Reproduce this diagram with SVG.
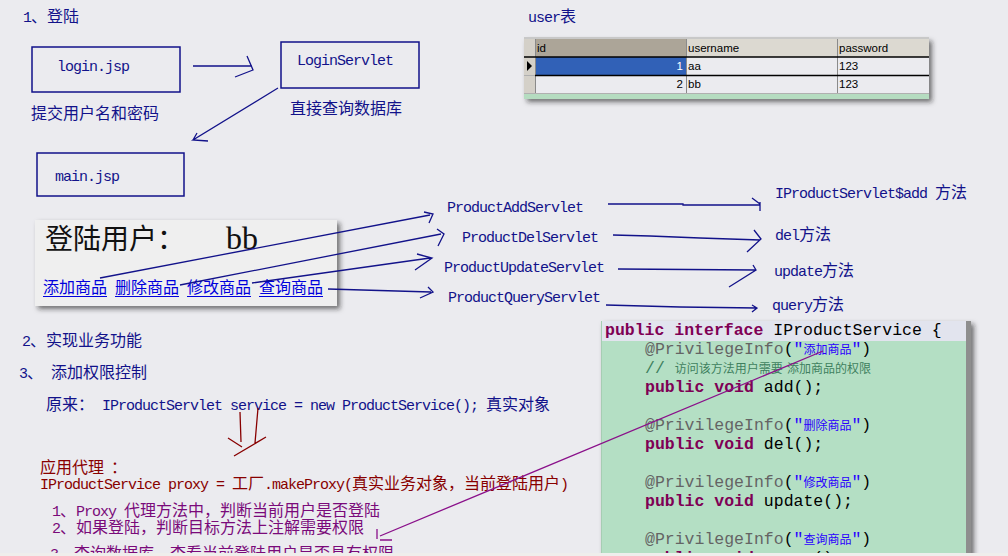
<svg xmlns="http://www.w3.org/2000/svg" width="1008" height="556" viewBox="0 0 1008 556">
<style>
.m{font-family:"Liberation Mono",monospace;font-size:15px;letter-spacing:-1px}
.k{font-family:"Noto Sans CJK SC","Noto Sans CJK JP",sans-serif;font-size:16px;letter-spacing:0}
.nv{fill:#12128a}
.dr{fill:#880000}
.pu{fill:#7a0a7a}
.box{fill:none;stroke:#12128a;stroke-width:1.5}
.ln{fill:none;stroke:#12128a;stroke-width:1.3}
.rd{fill:none;stroke:#880000;stroke-width:1.3}
.pl{fill:none;stroke:#8a108a;stroke-width:1.3}
.t{font-family:"Liberation Sans",Arial,sans-serif;font-size:11.5px;fill:#000}
.c{font-family:"Liberation Mono",monospace;font-size:16.5px}
.ck{font-family:"Noto Sans CJK SC",sans-serif;font-size:12px}
.kw{font-weight:bold;fill:#7f0055}
.an{fill:#646464}
.st{fill:#2a00ff}
.cm{fill:#3f7f5f}
.lk{font-family:"Noto Sans CJK SC",sans-serif;font-size:16px;fill:#0000dd}
</style>
<defs>
<filter id="sh" x="-10%" y="-10%" width="130%" height="140%">
<feDropShadow dx="3" dy="3" stdDeviation="2.5" flood-color="#222" flood-opacity="0.6"/>
</filter>
</defs>
<rect x="0" y="0" width="1008" height="556" fill="#ebebef"/>

<!-- section 1 -->
<text id="title1" x="23" y="22" class="m nv">1<tspan class="k">、登陆</tspan></text>

<g id="login">
<rect x="32" y="47" width="148" height="45" class="box"/>
<text x="57" y="71" class="m nv">login.jsp</text>
</g>
<g id="loginservlet">
<rect x="281" y="42" width="138" height="46" class="box"/>
<text x="297" y="65" class="m nv">LoginServlet</text>
</g>
<g id="mainjsp">
<rect x="37" y="153" width="147" height="43" class="box"/>
<text x="55" y="181" class="m nv">main.jsp</text>
</g>
<text id="lbl-submit" x="31" y="119" class="k nv">提交用户名和密码</text>
<text id="lbl-query" x="290" y="114" class="k nv">直接查询数据库</text>

<!-- user table -->
<g id="usertable">
<text x="528" y="22" class="m nv">user<tspan class="k">表</tspan></text>
<rect x="524" y="38" width="405" height="61" fill="#888" filter="url(#sh)"/>
<rect x="524" y="37" width="405" height="2" fill="#c8c8c8"/>
<rect x="524" y="39" width="11" height="18" fill="#d4d0c8"/>
<rect x="535" y="39" width="151" height="18" fill="#aca598"/>
<rect x="686" y="39" width="243" height="18" fill="#dcd9d1"/>
<rect x="524" y="57" width="11" height="37" fill="#d4d0c8"/>
<rect x="535" y="57" width="151" height="19" fill="#3161b7"/>
<rect x="686" y="57" width="243" height="19" fill="#ebebef"/>
<rect x="535" y="76" width="394" height="17" fill="#ebebef"/>
<rect x="524" y="93" width="405" height="6" fill="#b5dcc0"/>
<g stroke="#8a8a8a" stroke-width="1">
<line x1="535.5" y1="39" x2="535.5" y2="93"/>
<line x1="686.5" y1="39" x2="686.5" y2="93"/>
<line x1="837.5" y1="39" x2="837.5" y2="93"/>
<line x1="524" y1="93.5" x2="929" y2="93.5" stroke="#b0b0b0"/>
<line x1="524" y1="75.5" x2="535" y2="75.5" stroke="#b0b0b0"/>
</g>
<line x1="524" y1="57" x2="929" y2="57" stroke="#000" stroke-width="1.5"/>
<line x1="535" y1="75.5" x2="929" y2="75.5" stroke="#000" stroke-width="1.5"/>
<polygon points="527,61 527,71 532,66" fill="#000"/>
<text x="537" y="52" class="t">id</text>
<text x="688" y="52" class="t">username</text>
<text x="839" y="52" class="t">password</text>
<text x="683" y="70" class="t" style="fill:#fff" text-anchor="end">1</text>
<text x="688" y="70" class="t">aa</text>
<text x="839" y="70" class="t">123</text>
<text x="683" y="88" class="t" text-anchor="end">2</text>
<text x="688" y="88" class="t">bb</text>
<text x="839" y="88" class="t">123</text>
</g>

<!-- logged in panel -->
<g id="panel">
<rect x="35" y="220" width="302" height="86" fill="#efefef" filter="url(#sh)"/>
<text x="45" y="249" font-family="Noto Sans CJK SC,sans-serif" font-size="28" fill="#111">登陆用户：</text>
<text x="226" y="249" font-family="Liberation Serif,serif" font-size="32" fill="#111">bb</text>
<text x="43" y="293" class="lk">添加商品</text>
<text x="115" y="293" class="lk">删除商品</text>
<text x="187" y="293" class="lk">修改商品</text>
<text x="259" y="293" class="lk">查询商品</text>
<g stroke="#0000dd" stroke-width="1">
<line x1="43" y1="296.5" x2="107" y2="296.5"/>
<line x1="115" y1="296.5" x2="179" y2="296.5"/>
<line x1="187" y1="296.5" x2="251" y2="296.5"/>
<line x1="259" y1="296.5" x2="323" y2="296.5"/>
</g>
</g>

<!-- servlets -->
<g id="servlet-add"><text x="447" y="212" class="m nv">ProductAddServlet</text></g>
<g id="servlet-del"><text x="462" y="242" class="m nv">ProductDelServlet</text></g>
<g id="servlet-update"><text x="444" y="272" class="m nv">ProductUpdateServlet</text></g>
<g id="servlet-query"><text x="448" y="302" class="m nv">ProductQueryServlet</text></g>

<g id="method-add"><text x="775" y="198" class="m nv">IProductServlet$add <tspan class="k">方法</tspan></text></g>
<g id="method-del"><text x="775" y="240" class="m nv">del<tspan class="k">方法</tspan></text></g>
<g id="method-update"><text x="774" y="276" class="m nv">update<tspan class="k">方法</tspan></text></g>
<g id="method-query"><text x="772" y="310" class="m nv">query<tspan class="k">方法</tspan></text></g>

<!-- sections 2/3 -->
<text id="title2" x="22" y="346" class="m nv">2<tspan class="k">、实现业务功能</tspan></text>
<text id="title3" x="19" y="378" class="m nv">3<tspan class="k">、</tspan> <tspan class="k">添加权限控制</tspan></text>
<text id="orig" x="46" y="410" class="m nv"><tspan class="k">原来：</tspan> IProductServlet service = new ProductService(); <tspan class="k">真实对象</tspan></text>

<text id="proxy1" x="40" y="473" class="k dr">应用代理<tspan x="111">：</tspan></text>
<text id="proxy2" x="40" y="489" class="m dr">IProductService proxy = <tspan class="k">工厂</tspan>.makeProxy(<tspan class="k">真实业务对象，当前登陆用户</tspan>)</text>

<text id="step1" x="52" y="516" class="m pu">1<tspan class="k">、</tspan>Proxy <tspan class="k">代理方法中，判断当前用户是否登陆</tspan></text>
<text id="step2" x="52" y="533" class="m pu">2<tspan class="k">、如果登陆，判断目标方法上注解需要权限</tspan></text>
<text id="step3" x="50" y="559" class="m pu">3<tspan class="k">、查询数据库，查看当前登陆用户是否具有权限</tspan></text>

<!-- code box -->
<g id="codebox">
<rect x="601" y="321" width="370" height="240" fill="#8e8e8e" filter="url(#sh)"/>
<rect x="601" y="321" width="365" height="240" fill="#b4dfc4"/>
<rect x="601" y="321" width="365" height="20" fill="#e2e4ee"/>
<line x1="601.5" y1="321" x2="601.5" y2="556" stroke="#a6cdb3" stroke-width="1"/>
<text x="605" y="335" class="c"><tspan class="kw">public interface</tspan> IProductService {</text>
<text x="645" y="354" class="c"><tspan class="an">@PrivilegeInfo</tspan>(<tspan class="st">"</tspan><tspan class="ck st">添加商品</tspan><tspan class="st">"</tspan>)</text>
<text x="645" y="373" class="c cm">// <tspan class="ck">访问该方法用户需要</tspan><tspan x="787" class="ck">添加商品的权限</tspan></text>
<text x="645" y="392" class="c"><tspan class="kw">public void</tspan> add();</text>
<text x="645" y="430" class="c"><tspan class="an">@PrivilegeInfo</tspan>(<tspan class="st">"</tspan><tspan class="ck st">删除商品</tspan><tspan class="st">"</tspan>)</text>
<text x="645" y="449" class="c"><tspan class="kw">public void</tspan> del();</text>
<text x="645" y="487" class="c"><tspan class="an">@PrivilegeInfo</tspan>(<tspan class="st">"</tspan><tspan class="ck st">修改商品</tspan><tspan class="st">"</tspan>)</text>
<text x="645" y="506" class="c"><tspan class="kw">public void</tspan> update();</text>
<text x="645" y="544" class="c"><tspan class="an">@PrivilegeInfo</tspan>(<tspan class="st">"</tspan><tspan class="ck st">查询商品</tspan><tspan class="st">"</tspan>)</text>
<text x="645" y="563" class="c"><tspan class="kw">public void</tspan> query();</text>
</g>

<!-- connectors -->
<g id="connectors">
<path class="ln" d="M193,66 L252,66 M247,56 L253,70 L235,77"/>
<path class="ln" d="M278,88 L193,140 L208,141 M193,140 L197,133"/>
<path class="ln" d="M100,278 L430,215 M424,212 L433,214 L429,223"/>
<path class="ln" d="M180,285 L441,234 M437,229 L444,234 L438,246"/>
<path class="ln" d="M252,283 L430,258 M417,254 L432,258 L415,270"/>
<path class="ln" d="M328,289 L431,292 M428,287 L433,292 L420,298"/>
<path class="ln" d="M608,204 L683,204 L683,205 L760,205 M752,198 L760,204 M760,202 L760,211"/>
<path class="ln" d="M613,235 L650,236 L700,238 L760,240 M754,230 L761,239 L747,252"/>
<path class="ln" d="M618,269 L756,270 M753,265 L756,270 L729,287"/>
<path class="ln" d="M606,305 L680,307 L757,308 M752,305 L757,308 L752,312"/>
<path class="rd" d="M240,412 L241,442 M258,408 L255,443 M228,438 L242,447 M266,437 L234,456"/>
<path class="pl" d="M380,536 L823,351 M377,529 L377,539 M380,540 L392,540"/>
</g>

<rect x="0" y="553" width="1008" height="3" fill="#efeeec"/>
</svg>
